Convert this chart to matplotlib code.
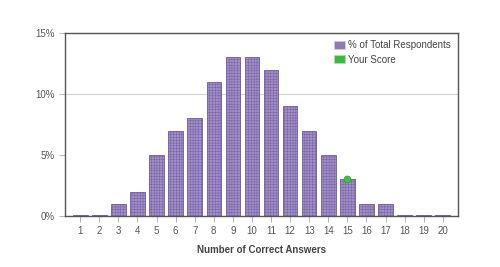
import matplotlib
matplotlib.use("Agg")
import matplotlib.pyplot as plt
from matplotlib.patches import Patch

plt.rcParams['font.family'] = ['Liberation Sans', 'DejaVu Sans']
plt.rcParams['hatch.linewidth'] = 0.3
plt.rcParams['hatch.color'] = '#cfc4e4'

answers = list(range(1, 21))
pct = [0.1, 0.1, 1, 2, 5, 7, 8, 11, 13, 13, 12, 9, 7, 5, 3, 1, 1, 0.1, 0.1, 0.1]
score_x = 15
score_y = 3
yticks = [0, 5, 10, 15]
ytick_labels = ['0%', '5%', '10%', '15%']

fig = plt.figure(figsize=(5, 2.67), dpi=100)
ax = fig.add_axes([0.13, 0.191, 0.786, 0.685])

ax.axhline(10, color='#d0d0d0', lw=0.8, zorder=0)
ax.bar(answers, pct, width=0.76, color='#9f8ec7', edgecolor='#6f5b9a',
       linewidth=0.6, hatch='++++++', zorder=2)
ax.plot([score_x], [score_y], 'o', color='#3cc43c', markersize=5,
        markeredgecolor='#2aa02a', markeredgewidth=0.5, zorder=3)

ax.set_xlim(0.2, 20.8)
ax.set_ylim(0, 15)
ax.set_xticks(answers)
ax.set_xticklabels([str(a) for a in answers])
ax.set_yticks(yticks)
ax.set_yticklabels(ytick_labels)
ax.tick_params(axis='both', labelsize=7, colors='#aaaaaa', labelcolor='#555555',
               length=4, width=0.6)
for s in ax.spines.values():
    s.set_color('#555555')
    s.set_linewidth(1.0)
ax.set_xlabel('Number of Correct Answers', fontsize=7, fontweight='bold',
              color='#444444', labelpad=6)

handles = [Patch(facecolor='#8e7cb8', edgecolor='#cfc6e0', linewidth=0.6),
           Patch(facecolor='#3cb83c', edgecolor='#b0e0b0', linewidth=0.6)]
ax.legend(handles, ['% of Total Respondents', 'Your Score'], loc='upper right',
          frameon=False, fontsize=7, handlelength=1.1, handleheight=0.9,
          handletextpad=0.4, labelspacing=0.5, borderaxespad=0.3,
          labelcolor='#444444')

fig.savefig('out.png', dpi=100)
